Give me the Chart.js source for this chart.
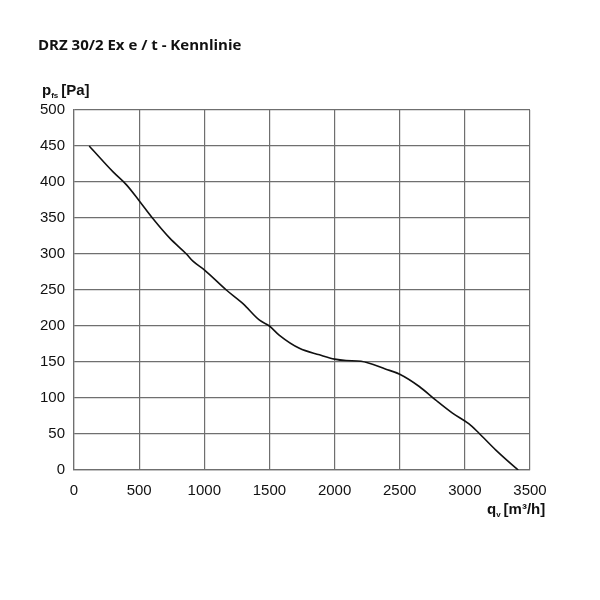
<!DOCTYPE html>
<html lang="de">
<head>
  <meta charset="UTF-8">
  <title>DRZ 30/2 Ex e / t - Kennlinie</title>
  <script src="https://cdn.jsdelivr.net/npm/chart.js"></script>
  <style>
    html, body { margin: 0; padding: 0; background: #fff; }
    #wrap { position: relative; width: 600px; height: 600px; }
  </style>
</head>
<body>
  <div id="wrap"><canvas id="curve" width="600" height="600"></canvas></div>

  <script>
    // Kennlinie
    const flowRate = [117, 300, 403, 500, 602, 735, 863, 913, 1000, 1169, 1297, 1424, 1500, 1577, 1730, 1884, 2000, 2088, 2203, 2394, 2500, 2650, 2777, 2905, 3032, 3109, 3236, 3390, 3410];
    const pressure = [450, 414, 396, 374, 350, 322, 300, 290, 278, 250, 231, 208, 200, 187, 169, 160, 154, 152, 151, 140, 133, 116, 97, 79, 64, 51, 28, 3, 0];

    const xTicks = [0, 500, 1000, 1500, 2000, 2500, 3000, 3500];
    const yTicks = [0, 50, 100, 150, 200, 250, 300, 350, 400, 450, 500];

    const gridColor = '#6f6f6f';
    const textColor = '#111';
    const tickFont = { family: '"Liberation Sans", Arial, sans-serif', size: 15 };

    // draws title and axis labels with subscripts
    const labelsPlugin = {
      id: 'labels',
      afterDraw(chart) {
        const c = chart.ctx;
        c.save();
        c.fillStyle = '#111';
        c.textBaseline = 'alphabetic';
        c.textAlign = 'left';
        c.font = '700 15px "Open Sans", sans-serif';
        c.fillText('DRZ 30/2 Ex e / t - Kennlinie', 38, 50);

        const sub = (x, y, main, s, rest) => {
          c.font = 'bold 15px "Liberation Sans", Arial, sans-serif';
          c.fillText(main, x, y);
          let w = c.measureText(main).width;
          c.font = 'bold 8px "Liberation Sans", Arial, sans-serif';
          c.fillText(s, x + w, y + 3);
          w += c.measureText(s).width + 3;
          c.font = 'bold 15px "Liberation Sans", Arial, sans-serif';
          c.fillText(rest, x + w, y);
        };
        sub(42, 95, 'p', 'fs', '[Pa]');
        sub(487, 514, 'q', 'v', '[m³/h]');
        c.restore();
      }
    };

    const ctx = document.getElementById('curve').getContext('2d');
    new Chart(ctx, {
      type: 'line',
      data: {
        datasets: [{
          data: flowRate.map((q, i) => ({ x: q, y: pressure[i] })),
          borderColor: '#111',
          borderWidth: 1.6,
          pointRadius: 0,
          cubicInterpolationMode: 'monotone',
          fill: false
        }]
      },
      options: {
        responsive: false,
        animation: false,
        layout: { padding: { top: 110, right: 70, bottom: 100, left: 0 } },
        plugins: {
          legend: { display: false },
          tooltip: { enabled: false }
        },
        scales: {
          x: {
            type: 'linear',
            min: 0,
            max: 3500,
            afterBuildTicks: s => { s.ticks = xTicks.map(v => ({ value: v })); },
            afterFit: s => { s.height = 30; },
            grid: { color: gridColor, lineWidth: 1.2, drawTicks: false },
            border: { color: gridColor, width: 1.2 },
            ticks: { color: textColor, padding: 12, maxRotation: 0, font: tickFont, callback: v => String(v) }
          },
          y: {
            min: 0,
            max: 500,
            afterBuildTicks: s => { s.ticks = yTicks.map(v => ({ value: v })); },
            afterFit: s => { s.width = 74; },
            grid: { color: gridColor, lineWidth: 1.2, drawTicks: false },
            border: { color: gridColor, width: 1.2 },
            ticks: { color: textColor, padding: 9, font: tickFont, callback: v => String(v) }
          }
        }
      },
      plugins: [labelsPlugin]
    });
  </script>
</body>
</html>
